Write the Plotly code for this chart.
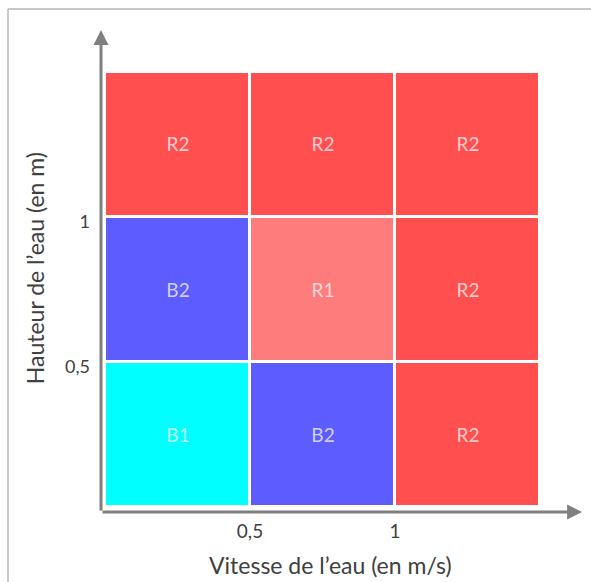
import plotly.graph_objects as go

# Data
x_centers = [0.25, 0.75, 1.25]          # vitesse bins (0-0.5, 0.5-1, 1-1.5)
y_centers = [0.25, 0.75, 1.25]          # hauteur bins
zone_labels = [                          # rows bottom -> top
    ["B1", "B2", "R2"],
    ["B2", "R1", "R2"],
    ["R2", "R2", "R2"],
]
categories = ["B1", "B2", "R1", "R2"]
cat_colors = ["#00FFFF", "#5C5CFF", "#FF7C7C", "#FF4F4F"]
x_tickvals = [0.5, 1]
x_ticktext = ["0,5", "1"]
y_tickvals = [0.5, 1]
y_ticktext = ["0,5", "1"]

z = [[categories.index(v) for v in row] for row in zone_labels]
n = len(categories)
colorscale = []
for i, c in enumerate(cat_colors):
    colorscale.append([i / n, c])
    colorscale.append([(i + 1) / n, c])

fig = go.Figure()
fig.add_trace(go.Heatmap(
    x=x_centers, y=y_centers, z=z,
    zmin=-0.5, zmax=n - 0.5,
    colorscale=colorscale, showscale=False,
    xgap=3, ygap=3,
    text=zone_labels, texttemplate="%{text}",
    textfont=dict(family="Lato, sans-serif", size=19, color="rgba(255,255,255,0.72)"),
    hoverinfo="skip",
))

axis_color = "#7F7F7F"
xr = [-0.0138, 1.655]
yr = [-0.0172, 1.662]

fig.update_layout(
    width=591, height=582,
    margin=dict(l=101, r=6, t=25, b=70),
    paper_bgcolor="white", plot_bgcolor="white",
    showlegend=False,
    font=dict(family="Lato, sans-serif", color="#404040"),
    xaxis=dict(range=xr, showgrid=False, zeroline=False, showline=False,
               tickvals=x_tickvals, ticktext=x_ticktext, ticks="",
               tickfont=dict(size=19, color="#404040"), ticklabelstandoff=6),
    yaxis=dict(range=yr, showgrid=False, zeroline=False, showline=False,
               tickvals=y_tickvals, ticktext=y_ticktext, ticks="",
               tickfont=dict(size=18, color="#404040"), ticklabelstandoff=10,
               ticklabelshift=5),
)

# axis arrows
fig.add_annotation(x=1.645, y=yr[0], ax=xr[0], ay=yr[0], xref="x", yref="y",
                   axref="x", ayref="y", showarrow=True, arrowhead=2,
                   arrowsize=1, arrowwidth=3, arrowcolor=axis_color, text="")
fig.add_annotation(x=xr[0], y=1.645, ax=xr[0], ay=yr[0], xref="x", yref="y",
                   axref="x", ayref="y", showarrow=True, arrowhead=2,
                   arrowsize=1, arrowwidth=3, arrowcolor=axis_color, text="")

# axis titles
fig.add_annotation(text="Vitesse de l’eau (en m/s)", x=0.776, y=-0.108,
                   xref="x", yref="paper", showarrow=False,
                   font=dict(size=23, color="#404040"), yanchor="middle")
fig.add_annotation(text="Hauteur de l’eau (en m)", x=-0.136, y=0.824,
                   xref="paper", yref="y", showarrow=False, textangle=-90,
                   font=dict(size=23, color="#404040"), xanchor="center")

# outer frame (top and left border of the picture)
fx0 = (8 - 101) / 484
fy1 = (512 - 9) / 487
fig.add_shape(type="line", xref="paper", yref="paper",
              x0=fx0, x1=1.1, y0=fy1, y1=fy1,
              line=dict(color="#C8C8C8", width=2), layer="below")
fig.add_shape(type="line", xref="paper", yref="paper",
              x0=fx0, x1=fx0, y0=-0.3, y1=fy1,
              line=dict(color="#C8C8C8", width=2), layer="below")

fig.write_html("out.html", config={"displayModeBar": False},
               post_script="document.body.style.margin='0';document.body.style.overflow='hidden';")
